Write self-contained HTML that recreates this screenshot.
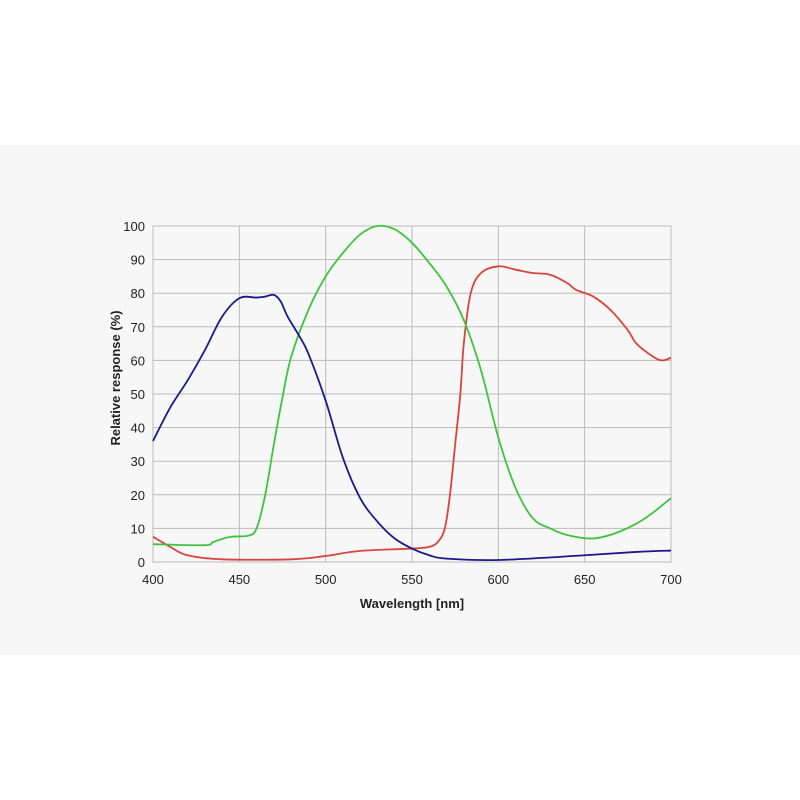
<!DOCTYPE html>
<html><head><meta charset="utf-8"><style>
html,body{margin:0;padding:0;background:#fff;}
#band{position:absolute;left:0;top:145px;width:800px;height:510px;background:#f7f7f7;}
svg{position:absolute;left:0;top:0;}
text{font-family:"Liberation Sans",sans-serif;fill:#222;}
</style></head><body>
<div id="band"></div>
<svg id="s" width="800" height="800" xmlns="http://www.w3.org/2000/svg"></svg>
<script>
const s=document.getElementById('s');
const X=w=>153+(w-400)*518/300, Y=v=>562-v*3.36;
let h='';
for(let w=400;w<=700;w+=50){h+=`<line x1="${X(w)}" y1="226" x2="${X(w)}" y2="562" stroke="#bbb" stroke-width="1"/>`;
h+=`<text x="${X(w)}" y="584" font-size="13" text-anchor="middle">${w}</text>`;}
for(let v=0;v<=100;v+=10){h+=`<line x1="153" y1="${Y(v)}" x2="671" y2="${Y(v)}" stroke="#bbb" stroke-width="1"/>`;
h+=`<text x="145" y="${Y(v)+5}" font-size="13" text-anchor="end">${v}</text>`;}
h+=`<rect x="153" y="226" width="518" height="336" fill="none" stroke="#bbb"/>`;
h+=`<text x="412" y="608" font-size="13" font-weight="bold" text-anchor="middle">Wavelength [nm]</text>`;
h+=`<text transform="translate(120,378) rotate(-90)" font-size="13" font-weight="bold" text-anchor="middle">Relative response (%)</text>`;
function path(d,c){const p=d.map(a=>[X(a[0]),Y(a[1])]);let str=`M${p[0][0]},${p[0][1]}`;
for(let i=0;i<p.length-1;i++){const p0=p[i-1]||p[i],p1=p[i],p2=p[i+1],p3=p[i+2]||p2;
const c1=[p1[0]+(p2[0]-p0[0])/6,p1[1]+(p2[1]-p0[1])/6],c2=[p2[0]-(p3[0]-p1[0])/6,p2[1]-(p3[1]-p1[1])/6];
str+=`C${c1[0]},${c1[1]} ${c2[0]},${c2[1]} ${p2[0]},${p2[1]}`;}
return `<path d="${str}" fill="none" stroke="${c}" stroke-width="1.8"/>`;}
const blue=[[400,36],[410,46],[420,54],[430,63],[440,73],[450,78.5],[460,78.7],[465,79],[470,79.5],[474,77.5],[478,73],[485,67],[490,62],[500,48],[510,31],[520,19],[530,12],[540,7],[550,4],[560,2],[570,1],[600,0.6],[650,2],[680,3],[700,3.4]];
const green=[[400,5.3],[430,5],[435,6],[445,7.5],[455,7.8],[460,10],[465,20],[470,35],[475,49],[480,61],[490,75],[500,85],[510,92],[520,97.5],[530,100],[540,99],[550,95],[560,89],[570,82],[580,72],[590,57],[600,37],[610,22],[620,13],[630,10],[640,8],[655,7],[670,9],[685,13],[700,19]];
const red=[[400,7.5],[410,4.5],[420,2],[440,0.8],[480,0.8],[500,1.8],[520,3.3],[550,4],[560,4.5],[565,6],[569,10],[572,20],[575,35],[578,50],[580,65],[584,80],[590,86],[600,88],[610,87],[620,86],[630,85.5],[640,83],[645,81],[655,79],[665,75],[675,69],[680,65],[690,61],[695,60],[700,60.8]];
h+=path(red,'#d9443c')+path(green,'#3ec43e')+path(blue,'#1a1a8c');
s.innerHTML=h;
</script>
</body></html>
